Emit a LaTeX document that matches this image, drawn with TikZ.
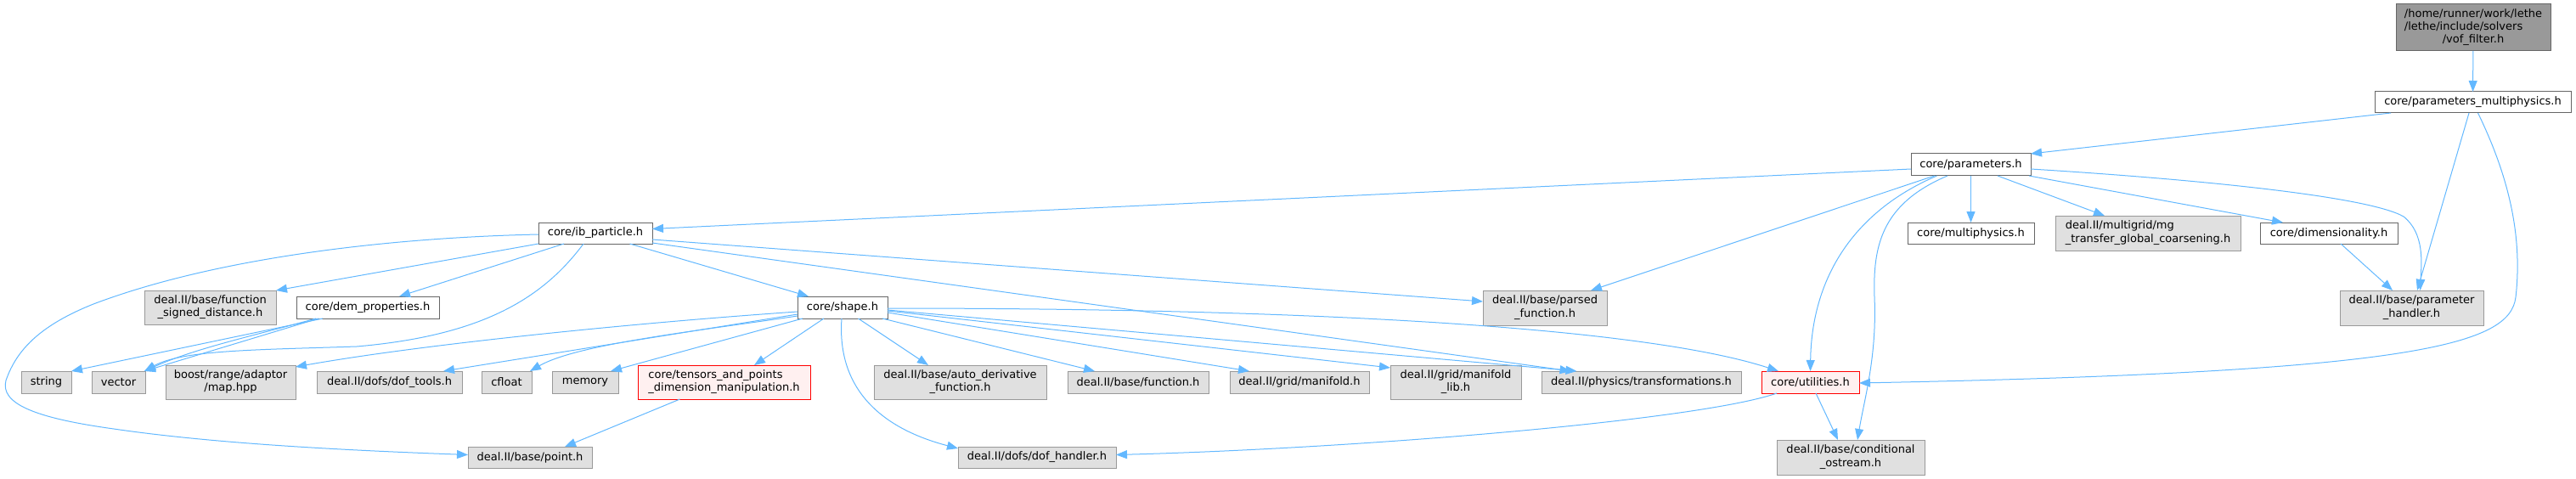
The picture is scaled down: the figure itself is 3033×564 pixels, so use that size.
\documentclass[tikz,border=0pt]{standalone}
\usepackage{fontspec}
\setmainfont{DejaVu Sans}
\usetikzlibrary{arrows.meta}
\definecolor{edgec}{HTML}{63B8FF}
\definecolor{grayfill}{HTML}{E0E0E0}
\definecolor{grayline}{HTML}{999999}
\definecolor{whiteline}{HTML}{666666}
\definecolor{redfill}{HTML}{FFF0F0}
\definecolor{redline}{HTML}{FF0000}
\definecolor{darkfill}{HTML}{999999}
\tikzset{
 nbase/.style={draw, line width=1pt, inner sep=0pt, outer sep=0pt, font=\fontsize{13}{15.3}\selectfont, text=black},
 gbox/.style={nbase, fill=grayfill, draw=grayline},
 wbox/.style={nbase, fill=white, draw=whiteline},
 rbox/.style={nbase, fill=redfill, draw=redline},
 dbox/.style={nbase, fill=darkfill, draw=whiteline},
 edge/.style={draw=edgec, line width=1pt, -{Triangle[length=13pt,width=10pt]}},
}
\newcommand\nd[7]{\node[#1, minimum width={#5pt-#3pt}, minimum height={#6pt-#4pt}] (#2) at ({(#3+#5)/2},{(#4+#6)/2}) {#7};}
\newcommand\twol[2]{\begin{tabular}{@{}l@{}}#1\\\multicolumn{1}{@{}c@{}}{#2}\end{tabular}}
\begin{document}
\begin{tikzpicture}[x=1pt,y=-1pt]
\useasboundingbox (0,0) rectangle (3033,564);
% nodes
\nd{dbox}{top}{2821}{5}{3003}{60}{\begin{tabular}{@{}l@{}}/home/runner/work/lethe\\/lethe/include/solvers\\\multicolumn{1}{@{}c@{}}{/vof\_filter.h}\end{tabular}}
\nd{wbox}{pm}{2796}{108}{3027}{133}{core/parameters\_multiphysics.h}
\nd{wbox}{par}{2250}{181}{2391}{207}{core/parameters.h}
\nd{wbox}{mph}{2246}{262}{2395}{287}{core/multiphysics.h}
\nd{gbox}{mg}{2420}{254}{2638}{295}{\twol{deal.II/multigrid/mg}{\_transfer\_global\_coarsening.h}}
\nd{wbox}{dim}{2661}{262}{2823}{287}{core/dimensionality.h}
\nd{gbox}{ph}{2755}{342}{2924}{383}{\twol{deal.II/base/parameter}{\_handler.h}}
\nd{rbox}{util}{2074}{437}{2189}{463}{core/utilities.h}
\nd{gbox}{cos}{2092}{518}{2266}{559}{\twol{deal.II/base/conditional}{\_ostream.h}}
\nd{wbox}{ib}{634}{262}{768}{287}{core/ib\_particle.h}
\nd{gbox}{fsd}{170}{342}{325}{382}{\twol{deal.II/base/function}{\_signed\_distance.h}}
\nd{wbox}{dem}{349}{349}{517}{375}{core/dem\_properties.h}
\nd{wbox}{shape}{939}{349}{1045}{375}{core/shape.h}
\nd{gbox}{string}{25}{437}{84}{463}{string}
\nd{gbox}{vector}{108}{437}{171}{463}{vector}
\nd{gbox}{boost}{195}{430}{348}{470}{\twol{boost/range/adaptor}{/map.hpp}}
\nd{gbox}{doft}{373}{437}{544}{463}{deal.II/dofs/dof\_tools.h}
\nd{gbox}{cfloat}{567}{437}{626}{463}{cfloat}
\nd{gbox}{memory}{650}{437}{728}{463}{memory}
\nd{rbox}{tensors}{751}{430}{954}{470}{\twol{core/tensors\_and\_points}{\_dimension\_manipulation.h}}
\nd{gbox}{point}{551}{526}{697}{551}{deal.II/base/point.h}
\nd{gbox}{autod}{1029}{430}{1232}{470}{\twol{deal.II/base/auto\_derivative}{\_function.h}}
\nd{gbox}{func}{1257}{437}{1423}{463}{deal.II/base/function.h}
\nd{gbox}{manif}{1448}{437}{1612}{463}{deal.II/grid/manifold.h}
\nd{gbox}{maniflib}{1637}{430}{1791}{470}{\twol{deal.II/grid/manifold}{\_lib.h}}
\nd{gbox}{transf}{1815}{437}{2050}{463}{deal.II/physics/transformations.h}
\nd{gbox}{parsed}{1746}{342}{1892}{383}{\twol{deal.II/base/parsed}{\_function.h}}
\nd{gbox}{dofh}{1128}{526}{1314}{551}{deal.II/dofs/dof\_handler.h}
% edges
\draw[edge] (top) -- (pm);
\draw[edge] ([xshift=19pt]pm.south west) -- (par.north east);
\draw[edge] ([xshift=-4.5pt]pm.south) -- ([xshift=6.5pt]ph.north);
\draw[edge] ([xshift=6pt]pm.south) .. controls (2955,210) and (2970,280) .. (2962,350) .. controls (2955,405) and (2850,438) .. ([yshift=-1pt]util.east);
\draw[edge] ([yshift=-5pt]par.west) -- ([yshift=5pt]ib.east);
\draw[edge] ([xshift=-43pt]par.south) -- ([xshift=54pt]parsed.north);
\draw[edge] ([xshift=-40pt]par.south) .. controls (2180,250) and (2133,330) .. (util.north);
\draw[edge] ([xshift=-27.5pt]par.south) .. controls (2215,240) and (2205,290) .. (2207,350) .. controls (2210,420) and (2195,470) .. ([xshift=8pt]cos.north);
\draw[edge] (par.south) -- (mph.north);
\draw[edge] ([xshift=31.5pt]par.south) -- ([xshift=-51pt]mg.north);
\draw[edge] ([xshift=-2pt]par.south east) -- ([xshift=27pt]dim.north west);
\draw[edge] ([yshift=-5pt]par.east) .. controls (2600,212) and (2790,232) .. (2830,255) .. controls (2855,275) and (2851,310) .. ([xshift=10pt]ph.north);
\draw[edge] ([xshift=14pt]dim.south) -- ([xshift=-22.5pt]ph.north);
\draw[edge] ([xshift=6.5pt]util.south) -- ([xshift=-15pt]cos.north);
\draw[edge] ([xshift=18pt]util.south west) .. controls (2000,495) and (1600,528) .. ([yshift=3pt]dofh.east);
\draw[edge] ([yshift=-1.5pt]ib.west) .. controls (450,280) and (250,305) .. (110,358) .. controls (50,382) and (20,410) .. (7,448) .. controls (0,475) and (40,492) .. (134,505) .. controls (250,522) and (400,530) .. ([yshift=3pt]point.west);
\draw[edge] (ib.south west) -- (fsd.north east);
\draw[edge] ([xshift=30pt]ib.south west) -- ([xshift=37pt]dem.north);
\draw[edge] ([xshift=-14pt]ib.south) .. controls (640,350) and (570,395) .. (420,408) .. controls (300,412) and (215,412) .. ([xshift=-1pt]vector.north east);
\draw[edge] ([xshift=40.5pt]ib.south) -- ([xshift=-40pt]shape.north);
\draw[edge] ([yshift=-7.5pt]ib.east) -- ([yshift=7.5pt]parsed.west);
\draw[edge] ([yshift=1pt]ib.south east) -- ([xshift=-83pt]transf.north);
\draw[edge] ([xshift=-53pt]dem.south) -- (string.north east);
\draw[edge] ([xshift=-58pt]dem.south) -- ([xshift=-1pt]vector.north east);
\draw[edge] ([xshift=-61pt]dem.south) .. controls (300,395) and (230,410) .. ([xshift=-1pt]vector.north east);
\draw[edge] ([yshift=-5pt]shape.west) .. controls (750,380) and (500,405) .. ([yshift=-2pt]boost.north east);
\draw[edge] ([yshift=-8pt]shape.west) -- ([xshift=63.5pt]doft.north);
\draw[edge] ([yshift=-10pt]shape.west) .. controls (820,390) and (680,405) .. ([xshift=-2pt]cfloat.north east);
\draw[edge] ([xshift=6pt]shape.south west) -- ([xshift=30pt]memory.north);
\draw[edge] ([xshift=-22pt]shape.south) -- ([xshift=35.5pt]tensors.north);
\draw[edge] ([xshift=18.5pt]shape.south) -- ([xshift=-37.5pt]autod.north);
\draw[edge] ([xshift=-1pt]shape.south) .. controls (985,460) and (1040,505) .. ([yshift=-2pt]dofh.north west);
\draw[edge] ([xshift=-6pt]shape.south east) -- ([xshift=-51pt]func.north);
\draw[edge] ([yshift=-6pt]shape.east) -- ([xshift=-59pt]manif.north);
\draw[edge] ([yshift=-4pt]shape.east) -- ([yshift=-3pt]maniflib.north west);
\draw[edge] ([yshift=-3pt]shape.east) -- ([xshift=-76pt]transf.north);
\draw[edge] ([yshift=-1pt]shape.east) .. controls (1600,363) and (1950,390) .. ([xshift=20pt]util.north west);
\draw[edge] ([xshift=-52pt]tensors.south) -- ([xshift=41pt]point.north);
\end{tikzpicture}
\end{document}
